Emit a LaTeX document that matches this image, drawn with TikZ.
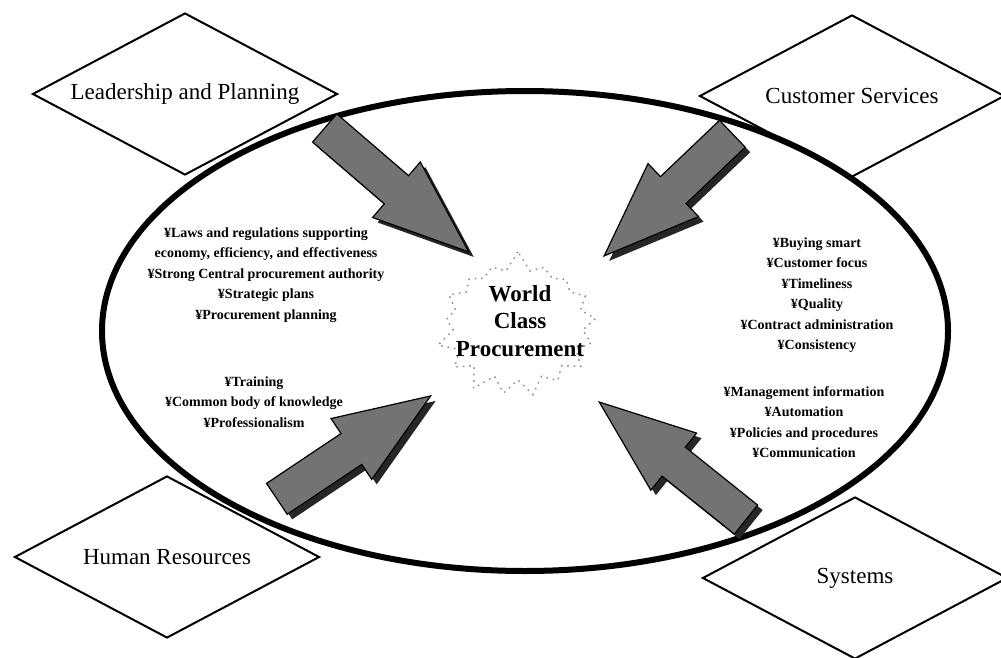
\documentclass[tikz,border=0pt]{standalone}
\usepackage{fontspec}
\setmainfont{Liberation Serif}
\usetikzlibrary{shapes.geometric,shapes.arrows,shapes.symbols}
\newcommand{\pbul}{¥}
\tikzset{
  quad/.style={diamond, aspect=1.9, draw, line width=2pt, fill=white, inner sep=0pt,
    minimum width=305pt, minimum height=162pt, font=\fontsize{23}{27}\selectfont},
  fat/.style={single arrow, draw=black, line width=1.2pt, fill=black!55,
    inner sep=0pt, inner ysep=18pt, minimum width=72pt,
    single arrow head extend=18pt, single arrow tip angle=42, anchor=tip},
  pts/.style={align=center, font=\fontsize{14}{20.5}\selectfont\bfseries},
  burst/.style={starburst, starburst points=17, starburst point height=20pt,
    random starburst=7, minimum width=170pt, minimum height=150pt,
    draw=black!45, dash pattern=on 1.5pt off 5pt, line width=1.5pt}
}
\begin{document}
\begin{tikzpicture}[x=1pt, y=-1pt]
\fill[white] (0,0) rectangle (1001,658);
\useasboundingbox (0,0) rectangle (1001,658);
% the four areas
\node[quad] (lead) at (185,94) {Leadership and Planning};
\node[quad] (cust) at (852,96) {Customer Services};
\node[quad] (hum) at (167,557) {Human Resources};
\node[quad] (sys) at (855,578) {Systems};
% the oval
\node[draw, ellipse, line width=6pt, inner sep=0pt, minimum width=846pt, minimum height=480pt] (oval) at (525,331) {};
% centre
\node[burst] (star) at (518,325) {};
\node[align=center, font=\fontsize{23}{27.5}\selectfont\bfseries] (wcp) at (520,321) {World\\Class\\Procurement};
% points in each area
\node[pts] (leadtxt) at (266,275) {\pbul Laws and regulations supporting\\economy, efficiency, and effectiveness\\\pbul Strong Central procurement authority\\\pbul Strategic plans\\\pbul Procurement planning};
\node[pts] (custtxt) at (817,295) {\pbul Buying smart\\\pbul Customer focus\\\pbul Timeliness\\\pbul Quality\\\pbul Contract administration\\\pbul Consistency};
\node[pts] (systxt) at (804,422) {\pbul Management information\\\pbul Automation\\\pbul Policies and procedures\\\pbul Communication};
\node[pts] (humtxt) at (254,402) {\pbul Training\\\pbul Common body of knowledge\\\pbul Professionalism};
% big arrows with shadow, placed by their tips
\foreach \n/\x/\y/\a/\l in {alead/470/253/-40.7/190, acust/603/257/-136.4/177, ahum/432/395/33.8/185, asys/598/401/141.3/188}
{
  \node[fat, fill=black!85, draw=none, minimum height=\l pt, rotate=\a] at (\x+5,\y+5) {};
  \node[fat, minimum height=\l pt, rotate=\a] (\n) at (\x,\y) {};
}
\end{tikzpicture}
\end{document}
